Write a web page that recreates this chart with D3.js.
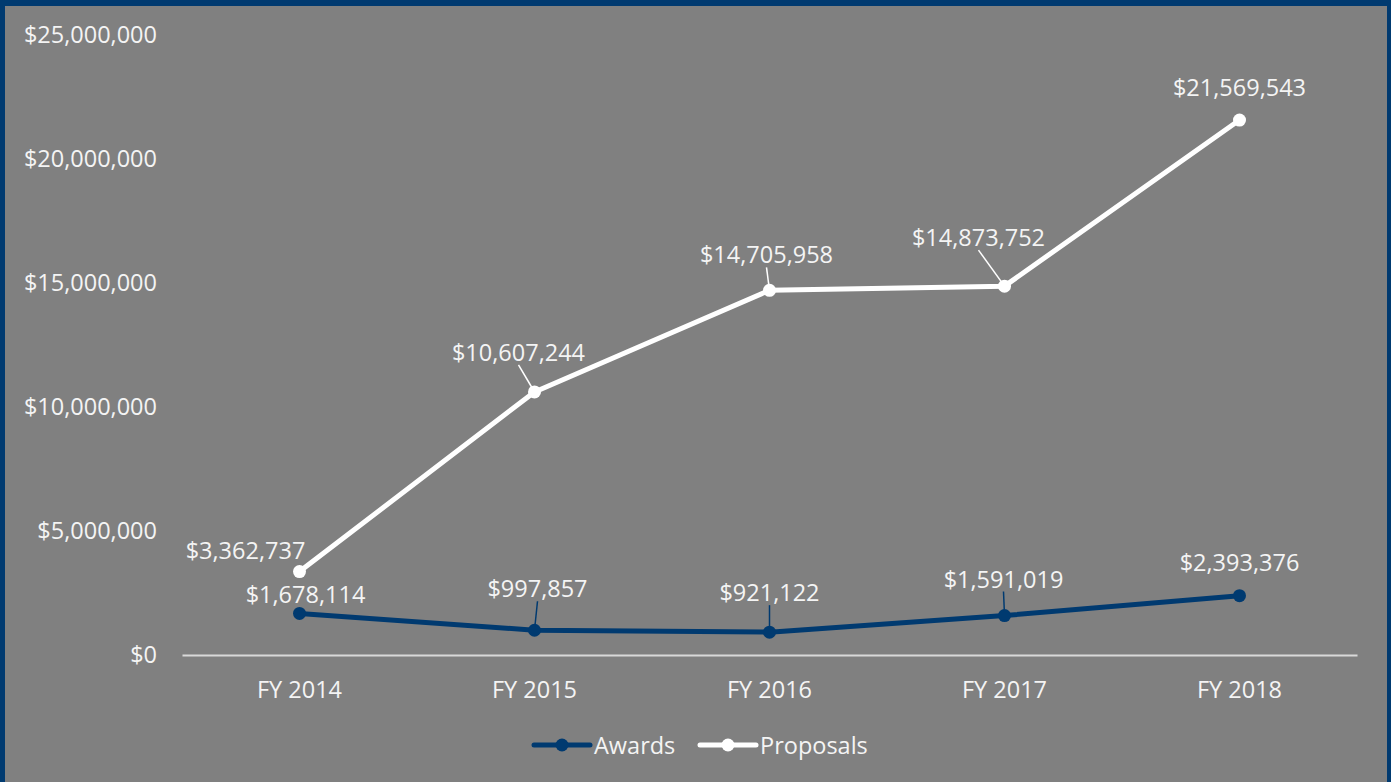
<!DOCTYPE html>
<html><head><meta charset="utf-8">
<script src="https://cdn.jsdelivr.net/npm/d3@7"></script>
<style>
html,body{margin:0;padding:0;background:#808080;}
svg{display:block;}
text{font-family:"Open Sans",sans-serif;fill:#f4f4f4;}
</style></head>
<body>
<svg id="c" width="1391" height="782"></svg>
<script>
const categories = ["FY 2014","FY 2015","FY 2016","FY 2017","FY 2018"];
const awards = [1678114, 997857, 921122, 1591019, 2393376];
const proposals = [3362737, 10607244, 14705958, 14873752, 21569543];
const yTicks = [0, 5000000, 10000000, 15000000, 20000000, 25000000];
const seriesNames = ["Awards", "Proposals"];
// label offsets (px) relative to point, and whether a leader line is drawn
const awardsLabelOffset = [[6,-19],[3,-42],[0,-40],[-1,-37],[0,-34]];
const awardsLeader = [false,true,true,true,false];
const proposalsLabelOffset = [[-54,-22],[-16,-40],[-3,-36],[-26,-49],[0,-33]];
const proposalsLeader = [false,true,true,true,false];

const W = 1391, H = 782;
const svg = d3.select("#c");
const blue = "#003a70", white = "#ffffff";
svg.append("rect").attr("width", W).attr("height", H).attr("fill", "#808080");
// border (top, left, right)
svg.append("rect").attr("x",0).attr("y",0).attr("width",W).attr("height",6).attr("fill",blue);
svg.append("rect").attr("x",0).attr("y",0).attr("width",5).attr("height",H).attr("fill",blue);
svg.append("rect").attr("x",1387).attr("y",0).attr("width",4).attr("height",H).attr("fill",blue);

const x = d3.scaleBand().domain(categories).range([182, 1357]);
const cx = c => x(c) + x.bandwidth()/2;
const y = d3.scaleLinear().domain([0, 25000000]).range([655, 35]);
const fmt = v => "$" + d3.format(",")(v);
const fs = 23.5;

// y axis labels
const yAxis = d3.axisLeft(y).tickValues(yTicks).tickFormat(fmt).tickSize(0).tickPadding(0);
const gy = svg.append("g").attr("transform","translate(157,0)").call(yAxis);
gy.select(".domain").remove();
gy.selectAll("text").style("font-size", fs+"px").attr("fill","#f4f4f4").style("font-family","'Open Sans',sans-serif");

// x axis
const xAxis = d3.axisBottom(x).tickSize(0).tickPadding(0);
const gx = svg.append("g").attr("transform","translate(0,655)").call(xAxis);
gx.select(".domain").attr("stroke","#d9d9d9").attr("stroke-width",2);
gx.selectAll("text").style("font-size", fs+"px").attr("fill","#f4f4f4").attr("dy",null).attr("y",34)
  .style("font-family","'Open Sans',sans-serif").attr("dominant-baseline","central");

function drawSeries(vals, color, offs, leaders) {
  const line = d3.line().x((d,i)=>cx(categories[i])).y(d=>y(d));
  svg.append("path").datum(vals).attr("d", line).attr("fill","none")
    .attr("stroke", color).attr("stroke-width",5).attr("stroke-linejoin","round");
  svg.append("g").selectAll("circle").data(vals).join("circle")
    .attr("cx",(d,i)=>cx(categories[i])).attr("cy",d=>y(d)).attr("r",6.5).attr("fill",color);
  vals.forEach((v,i)=>{
    const px = cx(categories[i]), py = y(v);
    const lx = px + offs[i][0], ly = py + offs[i][1];
    if (leaders[i]) {
      const sx = lx, sy = ly + 13;
      const dxl = px - sx, dyl = py - sy, len = Math.hypot(dxl, dyl);
      svg.append("line").attr("x1", sx).attr("y1", sy)
        .attr("x2", px - dxl/len*4).attr("y2", py - dyl/len*4)
        .attr("stroke", color === white ? white : blue).attr("stroke-width", 1.5);
    }
    svg.append("text").attr("x", lx).attr("y", ly).attr("text-anchor","middle")
      .attr("dominant-baseline","central").style("font-size", fs+"px").text(fmt(v));
  });
}
drawSeries(proposals, white, proposalsLabelOffset, proposalsLeader);
drawSeries(awards, blue, awardsLabelOffset, awardsLeader);

// legend
const legend = [{name:seriesNames[0], color:blue, x:534},{name:seriesNames[1], color:white, x:700}];
const lg = svg.append("g");
legend.forEach(l=>{
  lg.append("line").attr("x1", l.x).attr("x2", l.x+56).attr("y1",745).attr("y2",745)
    .attr("stroke", l.color).attr("stroke-width",5).attr("stroke-linecap","round");
  lg.append("circle").attr("cx", l.x+28).attr("cy",745).attr("r",6.5).attr("fill",l.color);
  lg.append("text").attr("x", l.x+60).attr("y",745).attr("dominant-baseline","central")
    .style("font-size", fs+"px").text(l.name);
});
</script>
</body></html>
